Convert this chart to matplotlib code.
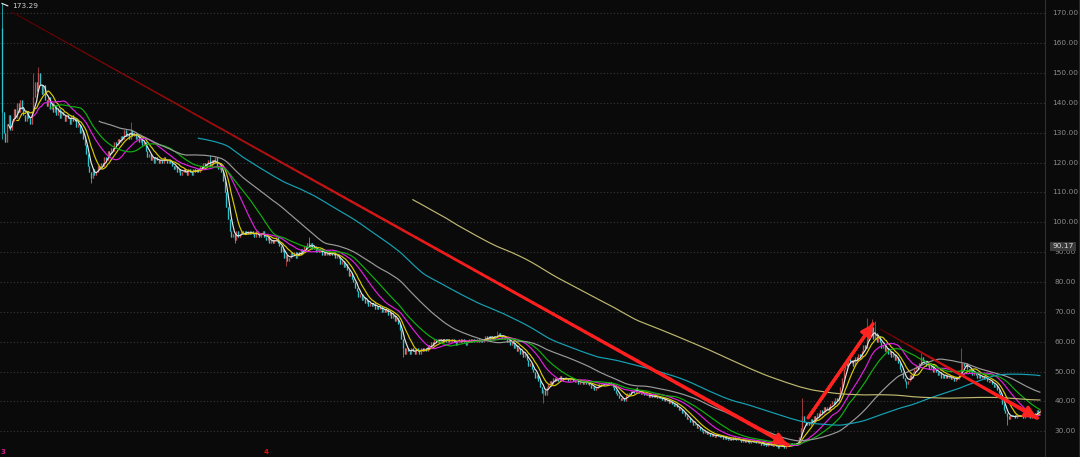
import numpy as np
import pandas as pd
import matplotlib
matplotlib.use("Agg")
import matplotlib.pyplot as plt
import matplotlib.transforms as mtransforms
from matplotlib.collections import LineCollection

# ---------------- data ----------------
first_open = 165.0
closes = [
    137, 130, 127, 133, 136, 131, 134, 138, 135, 140,
    137, 141, 138, 136, 134, 137, 135, 133, 137, 142,
    147, 144, 150, 146, 143, 146, 141, 139, 142, 138,
    140, 137, 139, 136, 138, 135, 137, 136, 134, 136,
    135, 133, 136, 134, 135, 132, 133, 130, 131, 128,
    126, 123, 119, 117, 115, 118, 116, 117, 119, 118,
    120, 119, 122, 121, 124, 123, 125, 124, 127, 126,
    128, 127, 129, 128, 131, 129, 130, 128, 131, 129,
    130, 128, 129, 127, 128, 126, 127, 124, 122, 123,
    121, 122, 120, 122, 121, 120, 121, 120, 122, 121,
    120, 121, 120, 119, 118, 119, 117, 118, 116, 117,
    118, 117, 116, 118, 117, 116, 118, 117, 118, 117,
    119, 118, 120, 119, 120, 121, 119, 121, 120, 122,
    119, 118, 119, 117, 114, 110, 105, 101, 97, 95,
    96, 94, 97, 95, 96, 97, 96, 97, 96, 97,
    96, 97, 96, 95, 97, 96, 95, 96, 97, 95,
    94, 95, 93, 94, 93, 94, 95, 93, 92, 90,
    91, 88, 89, 87, 88, 90, 89, 90, 88, 90,
    89, 91, 90, 92, 91, 93, 92, 93, 91, 92,
    90, 91, 90, 91, 89, 90, 89, 90, 89, 90,
    89, 90, 88, 89, 88, 86, 87, 85, 86, 84,
    82, 83, 81, 80, 78, 77, 75, 76, 74, 75,
    73, 74, 72, 73, 72, 73, 71, 72, 71, 72,
    70, 71, 70, 71, 69, 70, 68, 69, 67, 68,
    66, 64, 61, 58, 56, 58, 57, 56, 58, 57,
    56, 58, 57, 56, 58, 57, 58, 57, 59, 58,
    60, 59, 61, 60, 61, 60, 61, 60, 61, 60,
    61, 60, 60, 61, 60, 59, 60, 61, 60, 61,
    60, 59, 60, 61, 60, 61, 60, 60, 61, 60,
    61, 60, 61, 62, 61, 62, 61, 62, 61, 62,
    62, 63, 62, 61, 62, 61, 60, 61, 59, 60,
    58, 59, 57, 58, 56, 57, 55, 56, 54, 52,
    53, 51, 50, 48, 49, 47, 45, 43, 44, 42,
    45, 46, 47, 46, 48, 47, 48, 47, 48.5, 47,
    48, 47.5, 48, 47, 47.5, 48, 47, 46.5, 47, 46,
    47, 46.5, 46, 47, 46, 46.5, 45.5, 44.5, 45, 44,
    44.5, 45, 46, 45.5, 46, 45.5, 46, 45.5, 46.5, 45.5,
    45, 44, 43, 42, 41, 40.5, 41, 40, 42, 43,
    42.5, 43.5, 44, 43, 44.5, 43.5, 43, 42.5, 43, 42,
    42.5, 42, 41.5, 42, 41.5, 42, 41.5, 41, 41.5, 41,
    40.5, 41, 40, 40.5, 39.5, 40, 39, 38.5, 39, 38,
    37, 37.5, 36, 36.5, 35, 34, 34.5, 33, 33.5, 32,
    32.5, 31, 31.5, 30.5, 30, 29.5, 30, 29, 29.5, 28.5,
    29, 28.5, 28, 29, 28.5, 28, 28.5, 27.5, 28, 27.5,
    27, 27.5, 27, 28, 27.5, 27, 27.5, 27, 26.5, 27,
    26.5, 27, 26.5, 26, 26.5, 27, 26.5, 26, 26.5, 26,
    25.5, 26, 25.5, 25, 25.5, 26, 25.5, 25, 25.5, 25,
    24.5, 25, 25.5, 25, 24.5, 25, 25.5, 25, 26, 25.5,
    26, 25.5, 26, 28, 31, 35, 33, 32, 33, 32,
    34, 33, 35, 34, 36, 35, 37, 36, 38, 37,
    38, 37, 39, 40, 39, 41, 40, 42, 45, 48,
    51, 53, 52, 55, 53, 54, 52, 55, 54, 56,
    55, 57, 59, 58, 61, 64, 62, 65, 61, 63,
    60, 62, 60, 58, 59, 57, 58, 56, 57, 55,
    56, 54, 55, 53, 51, 50, 48, 47, 46, 47,
    49, 48, 50, 51, 52, 51, 53, 55, 54, 53,
    52, 53, 51, 52, 50, 51, 50, 49, 50, 48,
    49, 48, 49, 48, 48.5, 47.5, 48, 47, 48, 47.5,
    49, 51, 53, 52, 53, 51, 50, 51, 49, 50,
    49, 48, 49, 48, 48.5, 47.5, 48, 47, 46.5, 47,
    46, 45, 45.5, 44, 43, 41, 39, 37, 36, 35,
    34, 35.5, 35, 35.5, 34.5, 35, 35.5, 35, 35.5, 34.5,
    35, 35.5, 35, 34.5, 35, 36, 35.5, 37, 36.5, 37,
]
spike_high = {0: 173.29, 19: 150, 22: 152, 78: 133.5, 126: 122.5, 186: 95,
              300: 63.5, 385: 45, 485: 41, 524: 68, 527: 67.5, 529: 67,
              557: 57, 581: 58}
spike_low = {0: 128, 54: 113, 141: 93, 172: 85.5, 243: 55, 328: 39.5,
             485: 30, 548: 44.5, 609: 32}

ma_periods = [5, 10, 20, 30, 60, 120, 250]
ma_colors = ["#e6e6e6", "#d8cc00", "#e020e0", "#10b010", "#9a9a9a", "#14a2b4", "#bfb870"]

y_ticks = [30, 40, 50, 60, 70, 80, 90, 100, 110, 120, 130, 140, 150, 160, 170]
max_label = "173.29"
cursor_value = "90.17"
year_marks = [("3", -0.6, "#d0208a"), ("4", 158.8, "#e01010")]

# trend arrows: (x0, y0, x1, y1, gradient?)
trend_arrows = [
    (6.1, 170.4, 476.0, 25.5, True),
    (488.5, 34.5, 527.9, 66.0, False),
    (532.0, 64.3, 627.3, 34.5, True),
]

# ---------------- figure ----------------
BG = "#0a0a0a"
fig = plt.figure(figsize=(10.8, 4.57), dpi=100, facecolor=BG)
ax = fig.add_axes([0, 0, 1045 / 1080, 1])
ax.set_facecolor(BG)

n = len(closes)
idx = np.arange(n)
c = np.array(closes, dtype=float)
o = np.r_[first_open, c[:-1]]
h = np.maximum(o, c)
l = np.minimum(o, c)
for k, v in spike_high.items():
    h[k] = v
for k, v in spike_low.items():
    l[k] = v
up = c >= o

ax.set_xlim(-1.212, 632.1)
ax.set_ylim(21.4, 174.45)

# grid
for v in y_ticks:
    ax.axhline(v, color="#3a3a3a", lw=0.8, ls=(0, (1, 2)), zorder=0)

# candles
up_col = "#c24848"
dn_col = "#2cc4cc"
cols = np.where(up, up_col, dn_col)
ax.vlines(idx, l, h, colors=cols, lw=0.55, zorder=2)
body_lo = np.minimum(o, c)
body_hi = np.maximum(np.maximum(o, c), body_lo + 0.25)
ax.vlines(idx, body_lo, body_hi, colors=cols, lw=0.95, zorder=2)

# moving averages
s = pd.Series(c)
for p, col in zip(ma_periods, ma_colors):
    ma = s.rolling(p).mean()
    ax.plot(idx, ma, color=col, lw=0.85, zorder=3)

# trend arrows
for x0, y0, x1, y1, grad in trend_arrows:
    t = np.linspace(0, 1, 120)
    xs = x0 + (x1 - x0) * t
    ys = y0 + (y1 - y0) * t
    pts = np.column_stack([xs, ys]).reshape(-1, 1, 2)
    segs = np.concatenate([pts[:-1], pts[1:]], axis=1)
    tm = (t[:-1] + t[1:]) / 2
    if grad:
        cc = np.column_stack([0.35 + 0.65 * np.clip(tm * 1.6, 0, 1),
                              0.12 * np.clip(tm * 1.6, 0, 1),
                              0.12 * np.clip(tm * 1.6, 0, 1),
                              np.ones_like(tm)])
        ww = 0.7 + 2.2 * tm
    else:
        cc = [(1.0, 0.14, 0.12, 1.0)] * len(tm)
        ww = np.full_like(tm, 2.4)
    lc = LineCollection(segs, colors=cc, linewidths=ww, zorder=5, capstyle="round")
    ax.add_collection(lc)
    xa = x0 + (x1 - x0) * 0.97
    ya = y0 + (y1 - y0) * 0.97
    ax.annotate("", xy=(x1, y1), xytext=(xa, ya),
                arrowprops=dict(arrowstyle="-|>,head_length=0.7,head_width=0.35",
                                color="#ff2420", lw=2.2, mutation_scale=10,
                                shrinkA=0, shrinkB=0),
                zorder=6)

# axes styling
for sp in ["top", "left", "bottom"]:
    ax.spines[sp].set_visible(False)
ax.spines["right"].set_color("#303030")
ax.spines["right"].set_linewidth(0.8)
ax.set_xticks([])
ax.set_yticks([])

trans = mtransforms.blended_transform_factory(ax.transAxes, ax.transData)
for v in y_ticks:
    ax.text(1065 / 1045, v, f"{v:.2f}", transform=trans, ha="center", va="center",
            color="#8a8a8a", fontsize=5.3, clip_on=False)
ax.text(1063 / 1045, 91.9, cursor_value, transform=trans, ha="center", va="center",
        color="#dcdcdc", fontsize=5.3, clip_on=False, zorder=10,
        bbox=dict(boxstyle="square,pad=0.25", fc="#3a3a3a", ec="none"))

# max label
ax.plot([0, 3.5], [173.29, 172.5], color="#f0f0f0", lw=0.8, zorder=6)
ax.text(6.0, 172.4, max_label, color="#d0d0d0", fontsize=5.3, va="center", ha="left")

# year marks
for txt, xi, col in year_marks:
    ax.text(xi, 23.1, txt, color=col, fontsize=5, ha="left", va="center",
            fontweight="bold")

fig.add_artist(plt.Line2D([1079 / 1080, 1079 / 1080], [0, 1], color="#2a2a2a", lw=0.8))

fig.savefig("out.png", dpi=100, facecolor=BG)
